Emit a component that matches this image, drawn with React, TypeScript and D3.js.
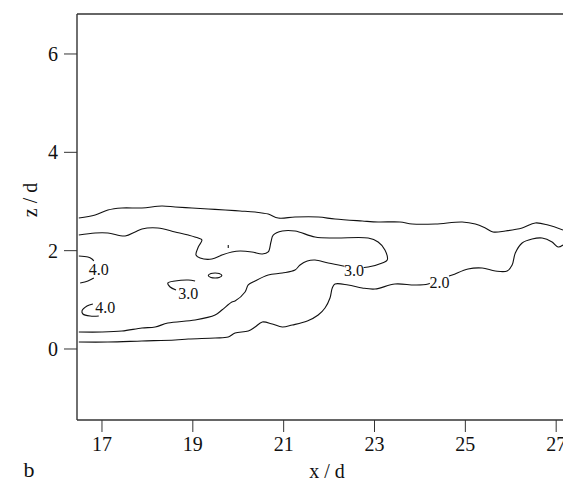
import React from "react";
import * as d3 from "d3";

// ---- axis ticks ----
const xTicks = [17, 19, 21, 23, 25, 27];
const zTicks = [0, 2, 4, 6];
const xDomain = [16.45, 27.15];
const zDomain = [-1.444, 6.813];

// ---- contour polylines, [x/d, z/d] ----
const contour20Upper: [number, number][] = [
  [16.49, 2.664], [16.85, 2.725], [17.13, 2.827], [17.44, 2.868], [17.88, 2.868],
  [18.32, 2.908], [18.61, 2.888], [18.98, 2.868], [19.34, 2.847], [19.71, 2.827],
  [20.04, 2.807], [20.37, 2.786], [20.66, 2.745], [20.88, 2.664], [21.25, 2.684],
  [21.76, 2.684], [22.13, 2.643], [22.73, 2.603], [23.08, 2.583], [23.56, 2.583],
  [23.83, 2.542], [24.34, 2.542], [24.93, 2.583], [25.22, 2.542], [25.44, 2.461],
  [25.61, 2.38], [25.88, 2.4], [26.25, 2.461], [26.54, 2.563], [26.82, 2.522],
  [27.15, 2.42],
];

const contour20Lower: [number, number][] = [
  [27.15, 2.115], [27.04, 2.074], [26.91, 2.176], [26.69, 2.257], [26.47, 2.237],
  [26.25, 2.156], [26.1, 1.952], [26.03, 1.708], [25.92, 1.586], [25.66, 1.586],
  [25.37, 1.647], [25.06, 1.627], [24.71, 1.505], [24.45, 1.424], [24.18, 1.322],
  [23.89, 1.302], [23.45, 1.322], [23.01, 1.22], [22.73, 1.241], [22.42, 1.302],
  [22.13, 1.322], [22.07, 1.241], [22.02, 1.037], [21.91, 0.834], [21.76, 0.691],
  [21.52, 0.569], [21.19, 0.488], [20.97, 0.447], [20.75, 0.508], [20.53, 0.549],
  [20.37, 0.447], [20.22, 0.366], [19.93, 0.325], [19.78, 0.244], [19.49, 0.224],
  [18.9, 0.203], [18.61, 0.183], [17.88, 0.163], [17.13, 0.142], [16.49, 0.142],
];

const contour30: [number, number][] = [
  [16.49, 2.318], [16.85, 2.359], [17.13, 2.359], [17.51, 2.298], [17.73, 2.38],
  [17.88, 2.441], [18.23, 2.461], [18.61, 2.38], [18.9, 2.318], [19.12, 2.257],
  [19.2, 2.217], [19.12, 2.074], [19.07, 1.912], [19.16, 1.851], [19.42, 1.83],
  [19.64, 1.912], [19.86, 1.973], [20.04, 1.993], [20.3, 1.973], [20.53, 1.932],
  [20.66, 1.973], [20.72, 2.176], [20.77, 2.318], [20.97, 2.4], [21.25, 2.4],
  [21.69, 2.278], [22.13, 2.257], [22.86, 2.257], [23.08, 2.176], [23.23, 2.013],
  [23.28, 1.81], [23.17, 1.749], [22.86, 1.668], [22.55, 1.647], [22.31, 1.688],
  [21.98, 1.749], [21.69, 1.81], [21.52, 1.79], [21.36, 1.708], [21.25, 1.607],
  [20.97, 1.546], [20.66, 1.505], [20.37, 1.383], [20.22, 1.302], [20.15, 1.159],
  [19.93, 0.976], [19.86, 0.956], [19.64, 0.793], [19.49, 0.691], [19.05, 0.59],
  [18.45, 0.529], [18.17, 0.447], [17.88, 0.427], [17.44, 0.366], [17.0, 0.346],
  [16.49, 0.346],
];

const contour30Small: [number, number][] = [
  [19.05, 1.383], [18.9, 1.403], [18.61, 1.383], [18.45, 1.342], [18.5, 1.261], [18.63, 1.2],
];

const contour40Upper: [number, number][] = [
  [16.49, 1.891], [16.69, 1.871], [16.78, 1.83], [16.82, 1.79],
];
const contour40UpperB: [number, number][] = [
  [16.82, 1.444], [16.69, 1.383], [16.52, 1.342],
];
const contour40Lower: [number, number][] = [
  [16.8, 0.915], [16.67, 0.875], [16.56, 0.773], [16.58, 0.712], [16.74, 0.671], [16.93, 0.671],
];

const islandClosed: [number, number][] = [
  [19.34, 1.495], [19.4, 1.535], [19.49, 1.546], [19.58, 1.535], [19.64, 1.495],
  [19.58, 1.454], [19.49, 1.444], [19.4, 1.454],
];
const smallMark: [number, number][] = [[19.78, 2.115], [19.78, 2.054]];

const contourLabels = [
  { text: "4.0", x: 16.93, z: 1.627 },
  { text: "4.0", x: 17.07, z: 0.854 },
  { text: "3.0", x: 18.9, z: 1.139 },
  { text: "3.0", x: 22.55, z: 1.607 },
  { text: "2.0", x: 24.43, z: 1.36 },
];

const W = 563;
const H = 483;
const left = 77;
const right = 563;
const top = 14;
const bottom = 420;

export default function App() {
  const x = d3.scaleLinear().domain(xDomain).range([left, right]);
  const z = d3.scaleLinear().domain(zDomain).range([bottom, top]);
  const line = d3
    .line<[number, number]>()
    .x((d) => x(d[0]))
    .y((d) => z(d[1]))
    .curve(d3.curveCatmullRom.alpha(0.5));
  const closed = d3
    .line<[number, number]>()
    .x((d) => x(d[0]))
    .y((d) => z(d[1]))
    .curve(d3.curveCardinalClosed);
  const straight = d3
    .line<[number, number]>()
    .x((d) => x(d[0]))
    .y((d) => z(d[1]));

  const font = "'Liberation Serif', 'Times New Roman', serif";
  const axisColor = "#333";
  const lines = [contour20Upper, contour20Lower, contour30, contour30Small, contour40Upper, contour40UpperB, contour40Lower];
  const labelSize = 16;
  const labelW = labelSize * 1.2;
  const labelH = labelSize * 0.75;

  return (
    <svg
      width={W}
      height={H}
      style={{ position: "absolute", left: 0, top: 0, background: "#fff" }}
      fontFamily={font}
    >
      <rect x={0} y={0} width={W} height={H} fill="#fff" />
      {/* frame */}
      <line x1={left} y1={top} x2={right} y2={top} stroke={axisColor} strokeWidth={1.4} />
      <line x1={left} y1={top} x2={left} y2={bottom} stroke={axisColor} strokeWidth={1.4} />
      <line x1={left} y1={bottom} x2={right} y2={bottom} stroke={axisColor} strokeWidth={1.4} />

      {/* contours */}
      {lines.map((pts, i) => (
        <path key={i} d={line(pts) || ""} fill="none" stroke="#111" strokeWidth={1.1} />
      ))}
      <path d={closed(islandClosed) || ""} fill="none" stroke="#111" strokeWidth={1.1} />
      <path d={straight(smallMark) || ""} fill="none" stroke="#111" strokeWidth={1.1} />

      {contourLabels.map((l, i) => (
        <g key={i}>
          <rect
            x={x(l.x) - labelW / 2}
            y={z(l.z) - labelH / 2 - 1}
            width={labelW}
            height={labelH + 2}
            fill="#fff"
          />
          <text
            x={x(l.x)}
            y={z(l.z) + labelSize * 0.35}
            textAnchor="middle"
            fontSize={labelSize}
            fill="#111"
          >
            {l.text}
          </text>
        </g>
      ))}

      {/* x ticks */}
      {xTicks.map((t) => (
        <g key={t}>
          <line x1={x(t)} y1={bottom} x2={x(t)} y2={bottom + 12} stroke={axisColor} strokeWidth={1} />
          <text x={x(t)} y={bottom + 31} textAnchor="middle" fontSize={20} fill="#111">
            {t}
          </text>
        </g>
      ))}
      {/* z ticks */}
      {zTicks.map((t) => (
        <g key={t}>
          <line x1={left - 13} y1={z(t)} x2={left} y2={z(t)} stroke={axisColor} strokeWidth={1} />
          <text x={left - 19} y={z(t) + 7} textAnchor="end" fontSize={20} fill="#111">
            {t}
          </text>
        </g>
      ))}

      <text x={327} y={478} textAnchor="middle" fontSize={20} fill="#111">
        x / d
      </text>
      <text
        transform={`translate(37,200) rotate(-90)`}
        textAnchor="middle"
        fontSize={20}
        fill="#111"
      >
        z / d
      </text>
      <text x={29} y={477} textAnchor="middle" fontSize={22} fill="#111">
        b
      </text>
    </svg>
  );
}
